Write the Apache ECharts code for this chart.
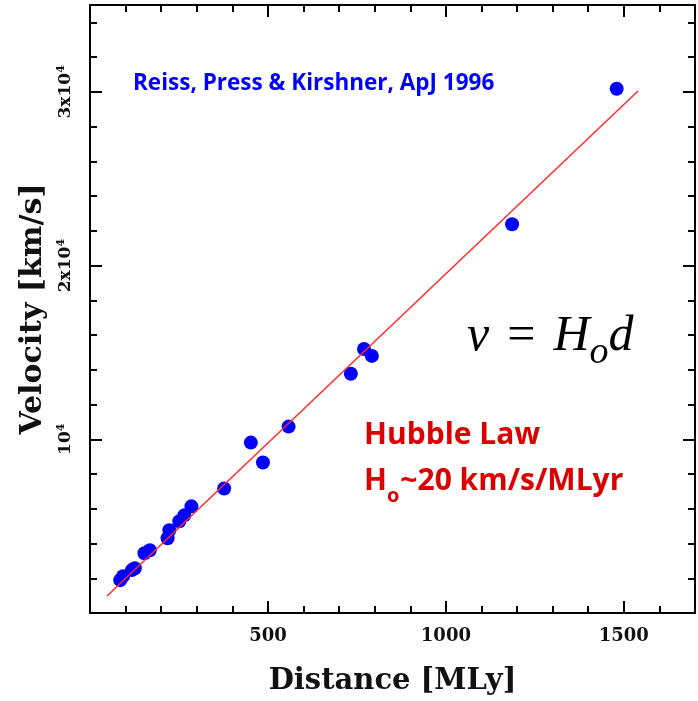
<!DOCTYPE html>
<html>
<head>
<meta charset="utf-8">
<script src="https://cdn.jsdelivr.net/npm/echarts@6/dist/echarts.min.js"></script>
<style>
  html, body { margin: 0; padding: 0; background: #fff; }
  #chart { width: 698px; height: 701px; }
</style>
</head>
<body>
<div id="chart"></div>
<script>
// supernova points: distance [MLy], velocity [km/s]
var distance = [85, 93, 118, 126, 153, 168, 218, 223, 251, 265, 285, 377, 452, 486, 558, 733, 770, 792, 1186, 1480];
var velocity = [1890, 2120, 2470, 2580, 3440, 3610, 4300, 4760, 5280, 5620, 6140, 7170, 9810, 8660, 10730, 13770, 15200, 14800, 22380, 30180];

// end points of the fitted Hubble line
var fitDistance = [48, 1540];
var fitVelocity = [975, 30050];

// tick labels
var xTickValues = [500, 1000, 1500];
var yTickValues = [10000, 20000, 30000];
var yTickLabels = ['10', '2x10', '3x10'];

var axisFont = 'DejaVu Serif';

var points = distance.map(function (d, i) { return [d, velocity[i]]; });
var fitLine = fitDistance.map(function (d, i) { return [d, fitVelocity[i]]; });

function xAxisOf (pos, interval, tickLen, main) {
  return {
    type: 'value',
    position: pos,
    min: 0,
    max: 1700,
    interval: interval,
    axisLine: { show: main, onZero: false, lineStyle: { color: '#000', width: 2 } },
    axisTick: { show: true, inside: true, length: tickLen, lineStyle: { color: '#000', width: 2 } },
    splitLine: { show: false },
    axisLabel: { show: false }
  }
}

function yAxisOf (pos, interval, tickLen, main) {
  return {
    type: 'value',
    position: pos,
    min: 0,
    max: 35000,
    interval: interval,
    axisLine: { show: main, onZero: false, lineStyle: { color: '#000', width: 2 } },
    axisTick: { show: true, inside: true, length: tickLen, lineStyle: { color: '#000', width: 2 } },
    splitLine: { show: false },
    axisLabel: { show: false }
  }
}

var xMain = xAxisOf('bottom', 500, 12, true);
xMain.name = 'Distance [MLy]';
xMain.nameLocation = 'middle';
xMain.nameGap = 54;
xMain.nameTextStyle = { fontFamily: axisFont, fontWeight: 'bold', fontSize: 29, color: '#111' };
xMain.axisLabel = {
  show: true,
  margin: 14,
  fontFamily: axisFont,
  fontWeight: 'bold',
  fontSize: 18,
  color: '#111',
  formatter: function (v) { return xTickValues.indexOf(v) >= 0 ? String(v) : ''; }
};

var yMain = yAxisOf('left', 10000, 12, true);
yMain.name = 'Velocity [km/s]';
yMain.nameLocation = 'middle';
yMain.nameRotate = 90;
yMain.nameGap = 31;
yMain.nameTextStyle = { fontFamily: axisFont, fontWeight: 'bold', fontSize: 30, color: '#111' };
yMain.axisLabel = {
  show: true,
  rotate: 90,
  margin: 14,
  color: '#111',
  formatter: function (v) {
    var i = yTickValues.indexOf(v);
    return i >= 0 ? '{m|' + yTickLabels[i] + '}{s|4}' : '';
  },
  rich: {
    m: { fontFamily: axisFont, fontWeight: 'bold', fontSize: 17, lineHeight: 20, color: '#111' },
    s: { fontFamily: axisFont, fontWeight: 'bold', fontSize: 11, lineHeight: 20, verticalAlign: 'top', color: '#111' }
  }
};

var chart = echarts.init(document.getElementById('chart'));
chart.setOption({
  backgroundColor: '#fff',
  animation: false,
  grid: { left: 90, right: 1, top: 5, bottom: 86 },
  xAxis: [
    xMain,
    xAxisOf('bottom', 100, 7, false),
    xAxisOf('top', 500, 12, true),
    xAxisOf('top', 100, 7, false)
  ],
  yAxis: [
    yMain,
    yAxisOf('left', 2000, 7, false),
    yAxisOf('right', 10000, 12, true),
    yAxisOf('right', 2000, 7, false)
  ],
  series: [
    {
      type: 'line',
      data: fitLine,
      showSymbol: false,
      lineStyle: { color: '#ff2a2a', width: 1.5 },
      z: 3
    },
    {
      type: 'scatter',
      data: points,
      symbol: 'circle',
      symbolSize: 14,
      itemStyle: { color: '#0000ff', opacity: 1 },
      z: 2
    }
  ],
  graphic: [
    {
      type: 'text', left: 133, top: 72,
      style: { text: 'Reiss, Press & Kirshner, ApJ 1996', font: 'bold 22.5px "Open Sans"', fill: '#0000ff' }
    },
    {
      type: 'text', left: 467, top: 312,
      style: {
        text: '{i|v}{r|=}{i|H}{o|o}{i|d}',
        rich: {
          i: { fontFamily: 'Liberation Serif', fontStyle: 'italic', fontSize: 50, lineHeight: 50, verticalAlign: 'top', fill: '#000' },
          r: { fontFamily: 'Liberation Serif', fontSize: 50, lineHeight: 50, padding: [0, 18, 0, 18], verticalAlign: 'top', fill: '#000' },
          o: { fontFamily: 'Liberation Serif', fontStyle: 'italic', fontSize: 38, lineHeight: 38, padding: [22, 0, 0, 0], verticalAlign: 'top', fill: '#000' }
        }
      }
    },
    {
      type: 'text', left: 364, top: 420,
      style: { text: 'Hubble Law', font: 'bold 30px "Open Sans"', fill: '#dd0000' }
    },
    {
      type: 'text', left: 364, top: 466,
      style: {
        text: '{t|H}{o|o}{t|~20 km/s/MLyr}',
        rich: {
          t: { fontFamily: 'Open Sans', fontWeight: 'bold', fontSize: 30, lineHeight: 36, verticalAlign: 'top', fill: '#dd0000' },
          o: { fontFamily: 'Open Sans', fontWeight: 'bold', fontSize: 20, lineHeight: 20, padding: [20, 1, 0, 0], verticalAlign: 'top', fill: '#dd0000' }
        }
      }
    }
  ]
});
</script>
</body>
</html>
